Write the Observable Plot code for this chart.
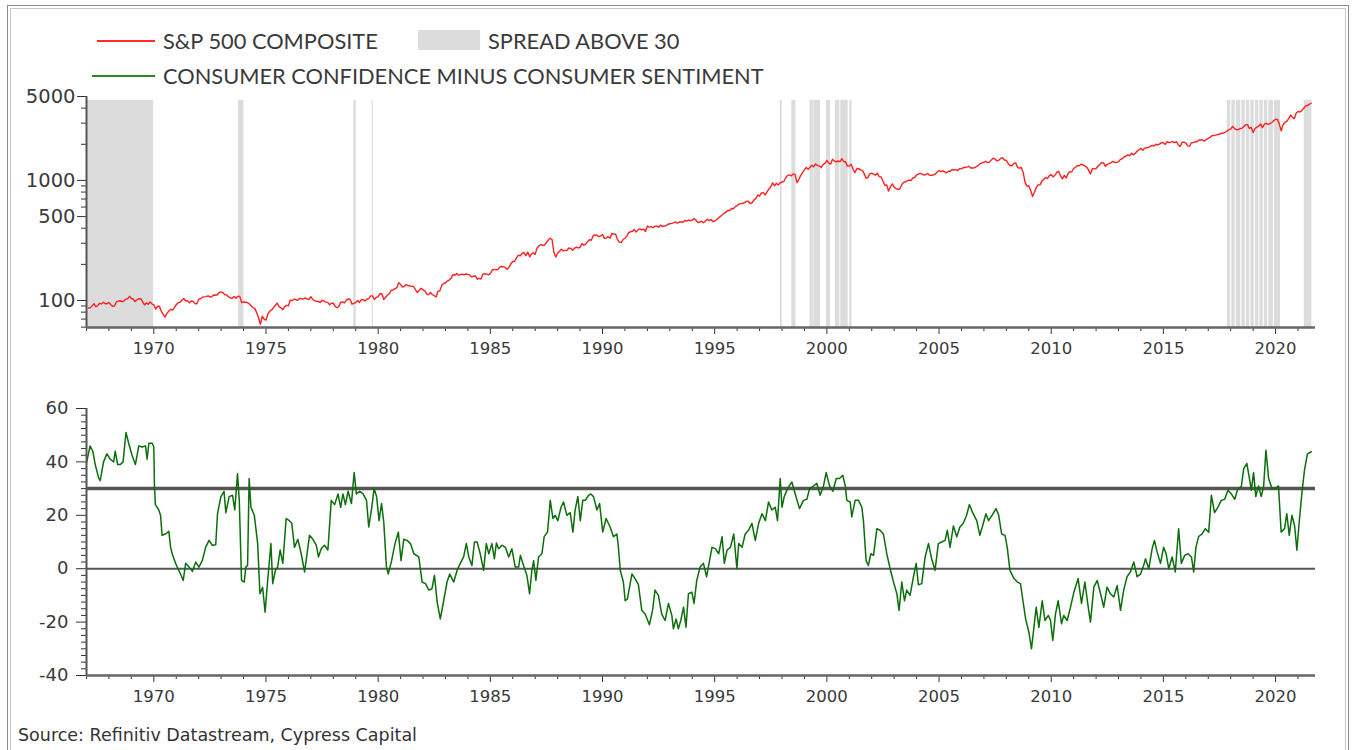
<!DOCTYPE html>
<html><head><meta charset="utf-8">
<script src="https://cdn.jsdelivr.net/npm/d3@7"></script>
<script src="https://cdn.jsdelivr.net/npm/@observablehq/plot@0.6"></script>
<style>
html,body{margin:0;padding:0;background:#fff;}
body{width:1357px;height:750px;overflow:hidden;position:relative;font-family:"DejaVu Sans",sans-serif;}
#frameOuter{position:absolute;left:7px;top:5px;width:1342px;height:760px;border:1px solid #8a8a8a;box-sizing:border-box;}
#frameInner{position:absolute;left:10px;top:8px;width:1336px;height:760px;border:1px solid #c8c8c8;box-sizing:border-box;}
.leg{position:absolute;font-family:"Lato",sans-serif;font-size:21.8px;color:#3a3a3a;white-space:nowrap;line-height:1;}
.legline{position:absolute;height:0;}
#topChart{position:absolute;left:0;top:86px;}
#botChart{position:absolute;left:0;top:398px;}
#source{position:absolute;left:18px;top:725px;font-size:17.5px;color:#333;font-family:"DejaVu Sans",sans-serif;white-space:nowrap;}
</style></head>
<body>
<div id="frameOuter"></div><div id="frameInner"></div>
<div class="legline" style="left:97px;top:40px;width:58px;border-top:2px solid #ff2a2a;"></div>
<div class="leg" style="left:163px;top:30px;">S&amp;P 500 COMPOSITE</div>
<div style="position:absolute;left:418px;top:30px;width:62px;height:20px;background:#dcdcdc;"></div>
<div class="leg" style="left:488px;top:30px;">SPREAD ABOVE 30</div>
<div class="legline" style="left:92px;top:75px;width:63px;border-top:2px solid #2a862a;"></div>
<div class="leg" style="left:163px;top:65px;">CONSUMER CONFIDENCE MINUS CONSUMER SENTIMENT</div>
<div id="topChart"></div>
<div id="botChart"></div>
<div id="source">Source: Refinitiv Datastream, Cypress Capital</div>
<script>
// ---------- DATA ----------
// S&P 500 composite, monthly (Jan 1967 .. Jul 2021)
const spStartYear = 1967;
const sp500 = [
86.6,86.8,90.2,94.0,89.1,90.6,94.8,93.6,96.7,93.9,94.0,96.5,
92.2,89.4,90.2,97.5,98.7,99.6,97.7,98.9,102.7,103.4,108.4,103.9,
103.0,98.1,101.5,103.7,103.5,97.7,91.8,95.5,93.1,97.2,93.8,92.1,
85.0,89.5,89.6,81.5,76.6,72.7,78.1,81.5,84.3,83.3,87.2,92.2,
95.9,96.8,100.3,103.9,99.6,99.7,95.6,99.0,98.3,94.2,94.0,102.1,
103.9,106.6,107.2,107.7,109.5,107.1,107.4,111.1,110.6,111.6,116.7,118.1,
116.0,111.7,111.5,107.0,105.0,104.3,108.2,104.3,108.4,108.3,96.0,97.6,
96.6,96.2,94.0,90.3,87.3,86.0,79.3,72.2,63.5,73.9,70.0,68.6,
77.0,81.6,83.4,87.3,91.2,95.2,88.8,86.9,83.9,89.0,91.2,90.2,
100.9,99.7,102.8,101.6,100.2,104.3,103.4,102.9,105.2,102.9,102.1,107.5,
102.0,99.8,98.4,98.4,96.1,100.5,98.9,97.0,96.5,92.3,94.8,95.1,
89.3,87.0,89.2,97.0,97.2,95.5,100.7,103.3,102.5,93.2,94.7,96.1,
99.9,96.3,101.6,101.8,99.1,102.9,103.8,109.3,109.3,101.8,106.2,107.9,
114.2,113.7,102.1,106.3,111.2,114.2,121.7,122.4,125.5,127.5,140.5,135.8,
129.6,131.3,136.0,132.8,132.6,131.2,130.9,122.8,116.2,121.9,126.4,122.6,
120.4,113.1,112.0,116.4,111.9,109.6,107.1,119.5,120.4,133.7,138.5,140.6,
145.3,148.1,153.0,164.4,162.4,168.1,162.6,164.4,166.1,163.6,166.4,164.9,
163.4,157.1,159.2,160.1,150.6,153.2,150.7,166.7,166.1,166.1,163.6,167.2,
179.6,181.2,180.7,179.8,189.6,191.9,190.9,188.6,182.1,189.8,202.2,211.3,
211.8,226.9,238.9,235.5,247.4,250.8,236.1,252.9,231.3,244.0,249.2,242.2,
274.1,284.2,291.7,288.4,290.1,304.0,318.7,329.8,321.8,251.8,230.3,247.1,
257.1,267.8,258.9,261.3,262.2,273.5,272.0,261.5,271.9,279.0,273.7,277.7,
297.5,288.9,294.9,309.6,320.5,318.0,346.1,351.5,349.2,340.4,346.0,353.4,
329.1,331.9,339.9,330.8,361.2,358.0,356.2,322.6,306.1,304.0,322.2,330.2,
343.9,367.1,375.2,375.3,389.8,371.2,387.8,395.4,387.9,392.5,375.2,417.1,
408.8,412.7,403.7,415.0,415.4,408.1,424.2,414.0,417.8,418.7,431.4,435.7,
438.8,443.4,451.7,440.2,450.2,450.5,448.1,463.6,458.9,467.8,461.8,466.5,
481.6,467.1,445.8,450.9,456.5,444.3,458.3,475.5,462.7,472.4,453.7,459.3,
470.4,487.4,500.7,514.7,533.4,544.8,562.1,561.9,584.4,581.5,605.4,615.9,
636.0,640.4,645.5,654.2,669.1,670.6,640.0,652.0,687.3,705.3,757.0,740.7,
786.2,790.8,757.1,801.3,848.3,885.1,954.3,899.5,947.3,914.6,955.4,970.4,
980.3,1049.3,1101.8,1111.8,1090.8,1133.8,1120.7,957.3,1017.0,1098.7,1163.6,1229.2,
1279.6,1238.3,1286.4,1335.2,1301.8,1372.7,1328.7,1320.4,1282.7,1362.9,1388.9,1469.3,
1394.5,1366.4,1498.6,1452.4,1420.6,1454.6,1430.8,1517.7,1436.5,1429.4,1315.0,1320.3,
1366.0,1239.9,1160.3,1249.5,1255.8,1224.4,1211.2,1133.6,1040.9,1059.8,1139.5,1148.1,
1130.2,1106.7,1147.4,1076.9,1067.1,989.8,911.6,916.1,815.3,885.8,936.3,879.8,
855.7,841.2,848.2,916.9,963.6,974.5,990.3,1008.0,996.0,1050.7,1058.2,1111.9,
1131.1,1144.9,1126.2,1107.3,1120.7,1140.8,1101.7,1104.2,1114.6,1130.2,1173.8,1211.9,
1181.3,1203.6,1180.6,1156.9,1191.5,1191.3,1234.2,1220.3,1228.8,1207.0,1249.5,1248.3,
1280.1,1280.7,1294.9,1310.6,1270.1,1270.2,1276.7,1303.8,1335.9,1377.9,1400.6,1418.3,
1438.2,1406.8,1420.9,1482.4,1530.6,1503.4,1455.3,1474.0,1526.8,1549.4,1481.1,1468.4,
1378.6,1330.6,1322.7,1385.6,1400.4,1280.0,1267.4,1282.8,1166.4,968.8,896.2,903.3,
825.9,735.1,797.9,872.8,919.1,919.3,987.5,1020.6,1057.1,1036.2,1095.6,1115.1,
1073.9,1104.5,1169.4,1186.7,1089.4,1030.7,1101.6,1049.3,1141.2,1183.3,1180.6,1257.6,
1286.1,1327.2,1325.8,1363.6,1345.2,1320.6,1292.3,1218.9,1131.4,1253.3,1247.0,1257.6,
1312.4,1365.7,1408.5,1397.9,1310.3,1362.2,1379.3,1406.6,1440.7,1412.2,1416.2,1426.2,
1498.1,1514.7,1569.2,1597.6,1630.7,1606.3,1685.7,1633.0,1681.6,1756.5,1805.8,1848.4,
1782.6,1859.5,1872.3,1884.0,1923.6,1960.2,1930.7,2003.4,1972.3,2018.1,2067.6,2058.9,
1995.0,2104.5,2067.9,2085.5,2107.4,2063.1,2103.8,1972.2,1920.0,2079.4,2080.4,2043.9,
1940.2,1932.2,2059.7,2065.3,2097.0,2098.9,2173.6,2171.0,2168.3,2126.2,2198.8,2238.8,
2278.9,2363.6,2362.7,2384.2,2411.8,2423.4,2470.3,2471.7,2519.4,2575.3,2647.6,2673.6,
2823.8,2713.8,2640.9,2648.1,2705.3,2718.4,2816.3,2901.5,2914.0,2711.7,2760.2,2506.9,
2704.1,2784.5,2834.4,2945.8,2752.1,2941.8,2980.4,2926.5,2976.7,3037.6,3141.0,3230.8,
3225.5,2954.2,2584.6,2912.4,3044.3,3100.3,3271.1,3500.3,3363.0,3270.0,3621.6,3756.1,
3714.2,3811.2,3972.9,4181.2,4204.1,4297.5,4395.3
];

// Consumer confidence minus consumer sentiment
const spreadDates = [
1967.01,1967.16,1967.28,1967.39,1967.54,1967.61,1967.76,1967.91,1968.06,1968.21,1968.28,1968.39,1968.51,1968.63,1968.76,1968.88,
1969.03,1969.18,1969.33,1969.48,1969.63,1969.70,1969.78,1969.93,1970.00,1970.03,1970.07,1970.22,1970.30,1970.37,1970.52,1970.67,
1970.75,1970.82,1970.97,1971.19,1971.31,1971.42,1971.57,1971.72,1971.87,1972.01,1972.16,1972.31,1972.46,1972.61,1972.76,1972.84,
1972.99,1973.13,1973.21,1973.36,1973.51,1973.61,1973.73,1973.81,1973.91,1974.03,1974.10,1974.18,1974.25,1974.33,1974.48,1974.63,
1974.73,1974.85,1974.96,1975.07,1975.22,1975.30,1975.42,1975.52,1975.63,1975.75,1975.90,1976.04,1976.15,1976.27,1976.42,1976.57,
1976.72,1976.79,1976.94,1977.09,1977.24,1977.34,1977.46,1977.61,1977.76,1977.91,1978.06,1978.21,1978.33,1978.43,1978.54,1978.66,
1978.81,1978.93,1979.03,1979.18,1979.33,1979.48,1979.58,1979.70,1979.82,1979.93,1980.04,1980.15,1980.25,1980.37,1980.45,1980.60,
1980.75,1980.90,1981.02,1981.14,1981.29,1981.44,1981.59,1981.81,1981.96,1982.11,1982.26,1982.40,1982.51,1982.63,1982.77,1982.92,
1983.07,1983.19,1983.37,1983.52,1983.66,1983.81,1983.93,1984.04,1984.18,1984.29,1984.41,1984.55,1984.70,1984.82,1984.93,1985.07,
1985.18,1985.27,1985.37,1985.52,1985.67,1985.82,1985.96,1986.11,1986.26,1986.34,1986.48,1986.63,1986.75,1986.85,1986.93,1987.03,
1987.15,1987.30,1987.40,1987.55,1987.67,1987.79,1987.89,1988.01,1988.15,1988.26,1988.41,1988.56,1988.68,1988.78,1988.90,1989.01,
1989.12,1989.23,1989.38,1989.48,1989.60,1989.75,1989.87,1990.01,1990.16,1990.34,1990.49,1990.64,1990.71,1990.79,1990.93,1991.01,
1991.11,1991.31,1991.45,1991.60,1991.75,1991.90,1992.09,1992.23,1992.34,1992.49,1992.64,1992.79,1992.94,1993.09,1993.16,1993.28,
1993.38,1993.49,1993.61,1993.72,1993.83,1993.98,1994.08,1994.20,1994.35,1994.50,1994.64,1994.88,1995.03,1995.18,1995.33,1995.43,
1995.55,1995.70,1995.85,1995.99,1996.07,1996.22,1996.36,1996.51,1996.66,1996.81,1996.96,1997.11,1997.26,1997.40,1997.55,1997.70,
1997.80,1997.92,1998.00,1998.10,1998.25,1998.44,1998.59,1998.78,1998.96,1999.11,1999.23,1999.41,1999.55,1999.70,1999.85,1999.97,
2000.12,2000.27,2000.42,2000.56,2000.71,2000.82,2000.89,2001.04,2001.11,2001.26,2001.41,2001.56,2001.63,2001.75,2001.85,2001.96,
2002.08,2002.23,2002.37,2002.52,2002.67,2002.82,2002.97,2003.12,2003.22,2003.34,2003.46,2003.56,2003.71,2003.86,2003.98,2004.08,
2004.23,2004.38,2004.53,2004.67,2004.82,2004.97,2005.12,2005.27,2005.37,2005.49,2005.64,2005.79,2005.93,2006.08,2006.23,2006.35,
2006.50,2006.68,2006.82,2006.94,2007.09,2007.21,2007.36,2007.54,2007.66,2007.79,2007.94,2008.04,2008.16,2008.34,2008.49,2008.63,
2008.74,2008.86,2009.01,2009.12,2009.23,2009.33,2009.45,2009.60,2009.72,2009.87,2009.97,2010.07,2010.19,2010.31,2010.46,2010.56,
2010.71,2010.86,2011.01,2011.20,2011.35,2011.50,2011.65,2011.75,2011.90,2012.05,2012.20,2012.34,2012.49,2012.64,2012.79,2012.94,
2013.09,2013.23,2013.38,2013.53,2013.68,2013.83,2013.98,2014.12,2014.20,2014.35,2014.50,2014.60,2014.72,2014.87,2015.01,2015.12,
2015.24,2015.39,2015.53,2015.68,2015.80,2015.95,2016.10,2016.25,2016.35,2016.45,2016.57,2016.72,2016.87,2017.02,2017.14,2017.28,
2017.43,2017.58,2017.73,2017.88,2018.03,2018.18,2018.32,2018.47,2018.58,2018.72,2018.83,2018.92,2019.02,2019.12,2019.24,2019.36,
2019.47,2019.57,2019.69,2019.84,2019.99,2020.13,2020.25,2020.40,2020.50,2020.61,2020.73,2020.85,2020.95,2021.05,2021.17,2021.29,
2021.42,2021.59
];
const spreadValues = [
40,46,44,39,34,33,40,43,41,40,44,39,39,40,51,47,
42.5,39,46,45.6,46,41,47,47,45.6,30.6,24,22,20,12.5,13,14,
8,5.6,2,-2,-4.4,2,0.6,-1,2.5,0.6,3,8,10.6,8.8,9,20.6,
27,29,21,27,27.5,22,35.6,25.6,-4.4,-5,0.6,1.2,33.8,23,20,9.4,
-9.4,-7,-16.3,-5,9.4,-5.6,-0.6,0.6,7,2,18.8,18,17,8,11,5.6,
-1.2,3,12.5,11,8.8,4.4,7.5,8.8,7,25.6,24,28,23,28,24,29,
24.4,36,28,29,28,25.6,15.6,22,30,27,18,24.4,17.5,0.6,-2,3,
9.4,13.7,3,11,10.6,9.4,5.6,4.4,-5,-5.6,-8,-7.5,-2.5,-12.5,-18.8,-12,
-5,-2,-5,-0.6,2,4.4,9.4,4.4,1.2,10,10,5.6,-0.6,9.4,5.6,9.4,
3.7,9.6,7.5,8.8,8,4.4,7.5,0.6,0.6,5,1.2,-2.5,-9.4,-0.6,3,-4.4,
4.4,5.6,12,13.7,25.6,18.8,20,18,23,25,20,21,13.7,22,27,18,
25.6,25.6,27.5,28,27,22,24.4,13.7,18.8,15.6,12,13,8,-0.6,-5,-12,
-11.3,-2,-3.7,-6,-15.6,-17,-21,-15.6,-8,-10,-17,-19.4,-13,-17.5,-22.5,-18.8,
-22.5,-19.4,-14.4,-21.9,-9.4,-8.8,-13,-4.4,0.6,2,-3,8,7.5,5.6,12,2,
7,8,13,0,9.4,8,13,14.4,17,10.6,17,20.6,18,25,22,23,
18,33.8,23,27,30,32.5,28,22.5,25.6,26,30,31,32,27.5,31,36,
31,29,33.8,33.8,35,31,25.6,25,19.4,25.6,25.6,23,18,3,1.2,5.6,
5,15,14.4,13,5.6,0,-5,-9.4,-15.6,-5,-12,-8,-10,-3,2,-6,
-5.6,4.4,9.4,3.7,-0.6,9.4,10,10.6,14.4,8,16,12,15.6,17,20,24,
21,18,12.5,16,20.6,18,20,22.5,20,13,12.5,8,-0.6,-3.7,-5,-5.6,
-12,-18.8,-24,-30,-22,-14.4,-22,-12,-19.4,-17.5,-19.4,-26.9,-17,-12,-20.6,-17.5,
-19.4,-14.4,-8.8,-3.7,-13,-5,-14.4,-20,-6.9,-4.4,-9.4,-14.4,-6.9,-9.4,-10.6,-6.3,
-15.6,-8,-3,-1.2,2.5,-3,-2,1.2,3.7,0,7.5,10.6,6.3,2,8,5.6,
0,4.4,-1.2,15,2,5,5.6,4.4,-1.2,8,12,13,15,13.7,27.5,21,
23,25.6,26,29.4,28,26,30,30.6,37.5,39.4,34,29.4,36,27,31,27,
31,44.4,33.8,30,30,31,13.7,15,20.6,12.5,20,16,6.9,17,28,37,
43,43.8
];

// Periods when the spread was above 30 (shaded)
const shadeStart = [1967.0,1973.78,1978.91,1979.73,1997.93,1998.44,1999.25,1999.42,1999.98,2000.38,2000.62,2001.02,
  2017.85,2018.05,2018.25,2018.5,2018.7,2018.9,2019.1,2019.3,2019.5,2019.7,2019.95,2021.28];
const shadeEnd   = [1969.99,1974.02,1979.02,1979.78,1998.01,1998.62,1999.40,1999.72,2000.16,2000.58,2000.95,2001.12,
  2018.0,2018.2,2018.45,2018.65,2018.85,2019.05,2019.25,2019.45,2019.65,2019.9,2020.22,2021.62];

// Axis ticks
const xMajorTicks = [1970,1975,1980,1985,1990,1995,2000,2005,2010,2015,2020];
const xMinorTicks = [1967,1968,1969,1971,1972,1973,1974,1976,1977,1978,1979,1981,1982,1983,1984,1986,1987,1988,1989,1991,1992,1993,1994,1996,1997,1998,1999,2001,2002,2003,2004,2006,2007,2008,2009,2011,2012,2013,2014,2016,2017,2018,2019,2021];
const yTopMajor = [100,500,1000,5000];
const yTopMinor = [60,70,80,90,200,300,400,600,700,800,900,2000,3000,4000];
const yBotMajor = [-40,-20,0,20,40,60];
const yBotMinor = [-37.5,-35,-32.5,-30,-27.5,-25,-22.5,-17.5,-15,-12.5,-10,-7.5,-5,-2.5,2.5,5,7.5,10,12.5,15,17.5,22.5,25,27.5,30,32.5,35,37.5,42.5,45,47.5,50,52.5,55,57.5];
const threshold = 30;

// ---------- BUILD ----------
const xDomain = [1967.0, 2021.78];
const topYMin = 59.6, topYMax = 5000;
const spData = sp500.map((v, i) => ({t: spStartYear + (i + 1) / 12, v}));
const spreadData = spreadDates.map((t, i) => ({t, v: spreadValues[i]}));
const shades = shadeStart.map((s, i) => ({x1: s, x2: shadeEnd[i]}));

const tickColor = "#333";
const labelColor = "#3a3a3a";
const xLabelStyle = {tickSize: 7, tickPadding: 8, tickFormat: d => String(d), stroke: tickColor, color: labelColor, fontSize: 16.5, label: null};
const minorX = {tickSize: 4, tickFormat: () => "", stroke: tickColor, label: null};

const topPlot = Plot.plot({
  width: 1357, height: 280,
  marginLeft: 86, marginRight: 42, marginTop: 10, marginBottom: 39,
  style: {fontFamily: "DejaVu Sans", overflow: "visible"},
  x: {domain: xDomain, axis: null},
  y: {type: "log", domain: [topYMin, topYMax], axis: null},
  marks: [
    Plot.rect(shades, {x1: "x1", x2: "x2", y1: topYMin, y2: 4650, fill: "#dcdcdc"}),
    Plot.line(spData, {x: "t", y: "v", stroke: "#ff2020", strokeWidth: 1.4}),
    Plot.axisX(xMinorTicks, minorX),
    Plot.axisX(xMajorTicks, xLabelStyle),
    Plot.axisY(yTopMinor, {tickSize: 5, tickFormat: () => "", stroke: tickColor, label: null}),
    Plot.axisY(yTopMajor, {tickSize: 9, tickFormat: () => "", stroke: tickColor, label: null}),
    Plot.text(yTopMajor, {x: xDomain[0], y: d => d, text: d => String(d), dx: -11, textAnchor: "end", fontSize: 19.5, fill: labelColor}),
    Plot.ruleX([xDomain[0]], {y1: topYMin, y2: topYMax, stroke: "#555", strokeWidth: 2}),
    Plot.ruleY([topYMin], {stroke: "#666", strokeWidth: 2.5})
  ]
});
document.getElementById("topChart").append(topPlot);

const botPlot = Plot.plot({
  width: 1357, height: 320,
  marginLeft: 86, marginRight: 42, marginTop: 10, marginBottom: 43,
  style: {fontFamily: "DejaVu Sans", overflow: "visible"},
  x: {domain: xDomain, axis: null},
  y: {domain: [-40, 60], axis: null},
  marks: [
    Plot.ruleY([threshold], {stroke: "#555", strokeWidth: 3.5}),
    Plot.ruleY([0], {stroke: "#555", strokeWidth: 2}),
    Plot.line(spreadData, {x: "t", y: "v", stroke: "#0b6e0b", strokeWidth: 1.5}),
    Plot.axisX(xMinorTicks, minorX),
    Plot.axisX(xMajorTicks, xLabelStyle),
    Plot.axisY(yBotMinor, {tickSize: 5, tickFormat: () => "", stroke: tickColor, label: null}),
    Plot.axisY(yBotMajor, {tickSize: 10, tickFormat: () => "", stroke: tickColor, label: null}),
    Plot.text(yBotMajor, {x: xDomain[0], y: d => d, text: d => String(d), dx: -18, textAnchor: "end", fontSize: 18, fill: labelColor}),
    Plot.ruleX([xDomain[0]], {y1: -40, y2: 60, stroke: "#555", strokeWidth: 2}),
    Plot.ruleY([-40], {stroke: "#666", strokeWidth: 2.5})
  ]
});
document.getElementById("botChart").append(botPlot);
</script>
</body></html>
